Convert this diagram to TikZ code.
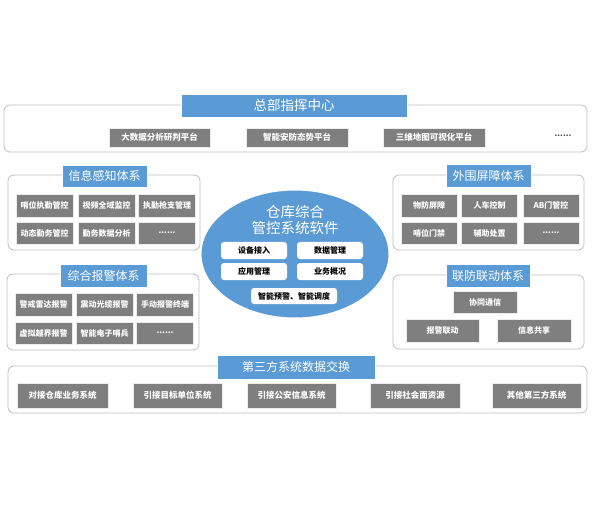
\documentclass[tikz,border=0pt]{standalone}
\usepackage{fontspec}
\setmainfont{Noto Sans CJK SC}
\usetikzlibrary{shapes.geometric}
\definecolor{tblue}{HTML}{5B9BD5}
\definecolor{igray}{HTML}{7F7F7F}
\definecolor{pborder}{HTML}{BFBFBF}
\tikzset{
  panel/.style={draw=pborder, line width=0.8pt, rounded corners=6pt, fill=white},
  titlebox/.style={fill=tblue, draw=white, line width=0.6pt, text=white, inner sep=0pt, font=\fontsize{12}{12}\selectfont},
  item/.style={fill=igray, draw=white!85!igray, line width=0.6pt, text=white, inner sep=0pt, font=\fontsize{8}{8}\selectfont\bfseries},
  wbox/.style={fill=white, rounded corners=3pt, text=black, inner sep=0pt, minimum height=17pt, font=\fontsize{8}{8}\selectfont\bfseries},
  dots/.style={text=black!70, font=\fontsize{8}{8}\selectfont\bfseries}
}
\begin{document}
\begin{tikzpicture}[x=1pt,y=-1pt]
\useasboundingbox (0,0) rectangle (593,510);
% ---------- top panel ----------
\draw[panel] (4,105) rectangle (587,152);
\node[titlebox, minimum width=226pt, minimum height=23pt, font=\fontsize{13.5}{13.5}\selectfont] (hq) at (294,105.5) {总部指挥中心};
\node[item, minimum width=101pt, minimum height=19pt, font=\fontsize{8.5}{8.5}\selectfont\bfseries] (hq1) at (159.5,137.5) {大数据分析研判平台};
\node[item, minimum width=102pt, minimum height=19pt, font=\fontsize{8.5}{8.5}\selectfont\bfseries] (hq2) at (297,137.5) {智能安防态势平台};
\node[item, minimum width=102pt, minimum height=19pt, font=\fontsize{8.5}{8.5}\selectfont\bfseries] (hq3) at (434,137.5) {三维地图可视化平台};
\node[dots] (hq4) at (563,136) {......};
% ---------- info panel ----------
\draw[panel] (8,175) rectangle (200,250);
\node[titlebox, minimum width=85pt, minimum height=22pt] (inf) at (104.5,176) {信息感知体系};
\node[item, minimum width=57pt, minimum height=23pt] (inf1) at (44.5,205.5) {哨位执勤管控};
\node[item, minimum width=57pt, minimum height=23pt] (inf2) at (106.5,205.5) {视频全域监控};
\node[item, minimum width=57pt, minimum height=23pt] (inf3) at (167,205.5) {执勤枪支管理};
\node[item, minimum width=57pt, minimum height=22pt] (inf4) at (44.5,233) {动态勤务管控};
\node[item, minimum width=57pt, minimum height=22pt] (inf5) at (106.5,233) {勤务数据分析};
\node[item, minimum width=57pt, minimum height=22pt] (inf6) at (167,233) {......};
% ---------- alarm panel ----------
\draw[panel] (7,274) rectangle (199,350);
\node[titlebox, minimum width=87pt, minimum height=23pt] (alm) at (103.5,275.5) {综合报警体系};
\node[item, minimum width=57pt, minimum height=23pt] (alm1) at (43.5,304.5) {警戒雷达报警};
\node[item, minimum width=57pt, minimum height=23pt] (alm2) at (104.5,304.5) {震动光缆报警};
\node[item, minimum width=57pt, minimum height=23pt] (alm3) at (165,304.5) {手动报警终端};
\node[item, minimum width=57pt, minimum height=22pt] (alm4) at (43.5,333) {虚拟越界报警};
\node[item, minimum width=57pt, minimum height=22pt] (alm5) at (104.5,333) {智能电子哨兵};
\node[item, minimum width=57pt, minimum height=22pt] (alm6) at (165,333) {......};
% ---------- outer barrier panel ----------
\draw[panel] (393,175) rectangle (584,250);
\node[titlebox, minimum width=85pt, minimum height=23pt] (bar) at (488.5,175.5) {外围屏障体系};
\node[item, minimum width=56pt, minimum height=23pt] (bar1) at (429,205.5) {物防屏障};
\node[item, minimum width=56pt, minimum height=23pt] (bar2) at (489.5,205.5) {人车控制};
\node[item, minimum width=56pt, minimum height=23pt] (bar3) at (551,205.5) {AB门管控};
\node[item, minimum width=56pt, minimum height=22pt] (bar4) at (429,233) {哨位门禁};
\node[item, minimum width=56pt, minimum height=22pt] (bar5) at (489.5,233) {辅助处置};
\node[item, minimum width=56pt, minimum height=22pt] (bar6) at (551,233) {......};
% ---------- joint defense panel ----------
\draw[panel] (393,275) rectangle (584,349);
\node[titlebox, minimum width=84pt, minimum height=23pt] (jnt) at (488,275.5) {联防联动体系};
\node[item, minimum width=64pt, minimum height=22pt] (jnt1) at (485,302) {协同通信};
\node[item, minimum width=73pt, minimum height=23pt] (jnt2) at (442.5,330.5) {报警联动};
\node[item, minimum width=74pt, minimum height=23pt] (jnt3) at (534,330.5) {信息共享};
% ---------- bottom panel ----------
\draw[panel] (8,366) rectangle (587,413);
\node[titlebox, minimum width=158pt, minimum height=24pt] (ext) at (296,367) {第三方系统数据交换};
\node[item, minimum width=91pt, minimum height=25pt, font=\fontsize{8.5}{8.5}\selectfont\bfseries] (ext1) at (62.5,395.5) {对接仓库业务系统};
\node[item, minimum width=89pt, minimum height=25pt, font=\fontsize{8.5}{8.5}\selectfont\bfseries] (ext2) at (177.5,395.5) {引接目标单位系统};
\node[item, minimum width=89pt, minimum height=25pt, font=\fontsize{8.5}{8.5}\selectfont\bfseries] (ext3) at (291.5,395.5) {引接公安信息系统};
\node[item, minimum width=90pt, minimum height=25pt, font=\fontsize{8.5}{8.5}\selectfont\bfseries] (ext4) at (415,395.5) {引接社会面资源};
\node[item, minimum width=89pt, minimum height=25pt, font=\fontsize{8.5}{8.5}\selectfont\bfseries] (ext5) at (536.5,395.5) {其他第三方系统};
% ---------- center ellipse ----------
\node[ellipse, fill=tblue, draw=white, line width=1pt, minimum width=188pt, minimum height=128pt, inner sep=0pt] (core) at (295,254) {};
\node[text=white, align=center, font=\fontsize{14.5}{16}\selectfont, inner sep=0pt] (coret) at (295,220) {仓库综合\\管控系统软件};
\node[wbox, minimum width=66pt] (c1) at (254,250.5) {设备接入};
\node[wbox, minimum width=66pt] (c2) at (330,250.5) {数据管理};
\node[wbox, minimum width=66pt] (c3) at (254,271.5) {应用管理};
\node[wbox, minimum width=66pt] (c4) at (330,271.5) {业务概况};
\node[wbox, minimum width=86pt, minimum height=16pt] (c5) at (294,296) {智能预警、智能调度};
\end{tikzpicture}
\end{document}
